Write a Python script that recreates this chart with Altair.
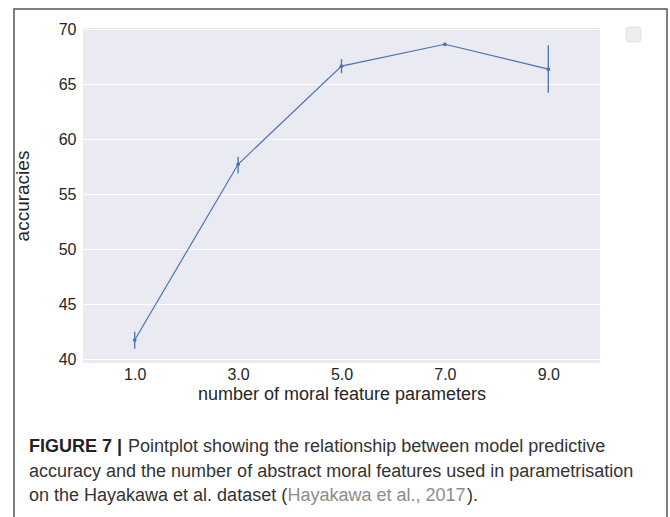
import altair as alt
import pandas as pd

# ---- data ----
params = ["1.0", "3.0", "5.0", "7.0", "9.0"]
acc_mean = [41.75, 57.73, 66.65, 68.64, 66.38]
acc_low = [40.96, 56.91, 66.00, 68.52, 64.24]
acc_high = [42.51, 58.42, 67.30, 68.76, 68.55]
y_ticks = [40, 45, 50, 55, 60, 65, 70]

cap_bold = ["FIGURE 7 |"]
cap_line1 = ["Pointplot showing the relationship between model predictive"]
cap_line2 = ["accuracy and the number of abstract moral features used in parametrisation"]
cap_line3a = ["on the Hayakawa et al. dataset ("]
cap_cite = ["Hayakawa et al., 2017"]
cap_line3b = [")."]

df = pd.DataFrame({"p": params, "m": acc_mean, "lo": acc_low, "hi": acc_high})

FONT = "Liberation Sans"
BLUE = "#4C72B0"
W, H = 517, 335
OX, OY = 83, 28
CAP = 18

x_enc = alt.X("p:O", sort=params,
              scale=alt.Scale(type="point", padding=0.5),
              axis=alt.Axis(title="number of moral feature parameters", labelAngle=0,
                            ticks=False, domain=False, grid=False, labelPadding=3,
                            labelFontSize=16, titleFontSize=18, titleFontWeight="normal",
                            titleY=31, titleBaseline="middle",
                            labelColor="#262626", titleColor="#262626", labelFont=FONT, titleFont=FONT))
y_scale = alt.Scale(domain=[39.66, 70.12], nice=False, zero=False)
y_enc = alt.Y("m:Q", scale=y_scale,
              axis=alt.Axis(title="accuracies", values=y_ticks, ticks=False, domain=False,
                            grid=True, gridColor="white", gridWidth=1, labelPadding=7,
                            labelFontSize=16, titleFontSize=19, titleFontWeight="normal",
                            titleX=-61, titleY=H / 2, titleAngle=-90, titleAlign="center",
                            titleBaseline="middle",
                            labelColor="#262626", titleColor="#262626", labelFont=FONT, titleFont=FONT))

base = alt.Chart(df)
line = base.mark_line(color=BLUE, strokeWidth=1.2).encode(x=x_enc, y=y_enc)
pts = base.mark_circle(color=BLUE, size=14, opacity=1).encode(x=x_enc, y="m:Q")
err = base.mark_rule(color=BLUE, strokeWidth=1.3).encode(x=x_enc, y="lo:Q", y2="hi:Q")

one = pd.DataFrame({"a": [0]})
border = alt.Chart(one).mark_rect(fillOpacity=0, stroke="#555555", strokeWidth=1.5).encode(
    x=alt.value(14 - OX), x2=alt.value(667 - OX), y=alt.value(9 - OY), y2=alt.value(540 - OY))
legend_box = alt.Chart(one).mark_rect(fill="#EEEEF2", stroke="#DDDDDD", strokeWidth=0.8,
                                       cornerRadius=3).encode(
    x=alt.value(626 - OX), x2=alt.value(641 - OX), y=alt.value(27 - OY), y2=alt.value(42 - OY))


def txt(lines, x, y, weight="normal", color="#333333"):
    return alt.Chart(pd.DataFrame({"t": lines})).mark_text(
        align="left", baseline="middle", font=FONT, fontSize=CAP, fontWeight=weight, color=color
    ).encode(text="t:N", x=alt.value(x - OX), y=alt.value(y - OY))


c1 = txt(cap_bold, 29, 447, weight="bold", color="#222222")
c2 = txt(cap_line1, 128, 447)
c3 = txt(cap_line2, 29, 471.5)
c4 = txt(cap_line3a, 29, 496)
c5 = txt(cap_cite, 287.5, 496, color="#8C8C8C")
c6 = txt(cap_line3b, 467, 496)

chart = alt.layer(border, legend_box, line, err, pts, c1, c2, c3, c4, c5, c6).properties(
    width=W, height=H,
    autosize=alt.AutoSizeParams(type="none"),
    padding={"left": OX, "top": OY, "right": 670 - OX - W, "bottom": 517 - OY - H},
    background="white",
).configure_view(fill="#EAEAF2", stroke=None)

chart.save("out.html", embed_options={"renderer": "svg", "actions": False})
